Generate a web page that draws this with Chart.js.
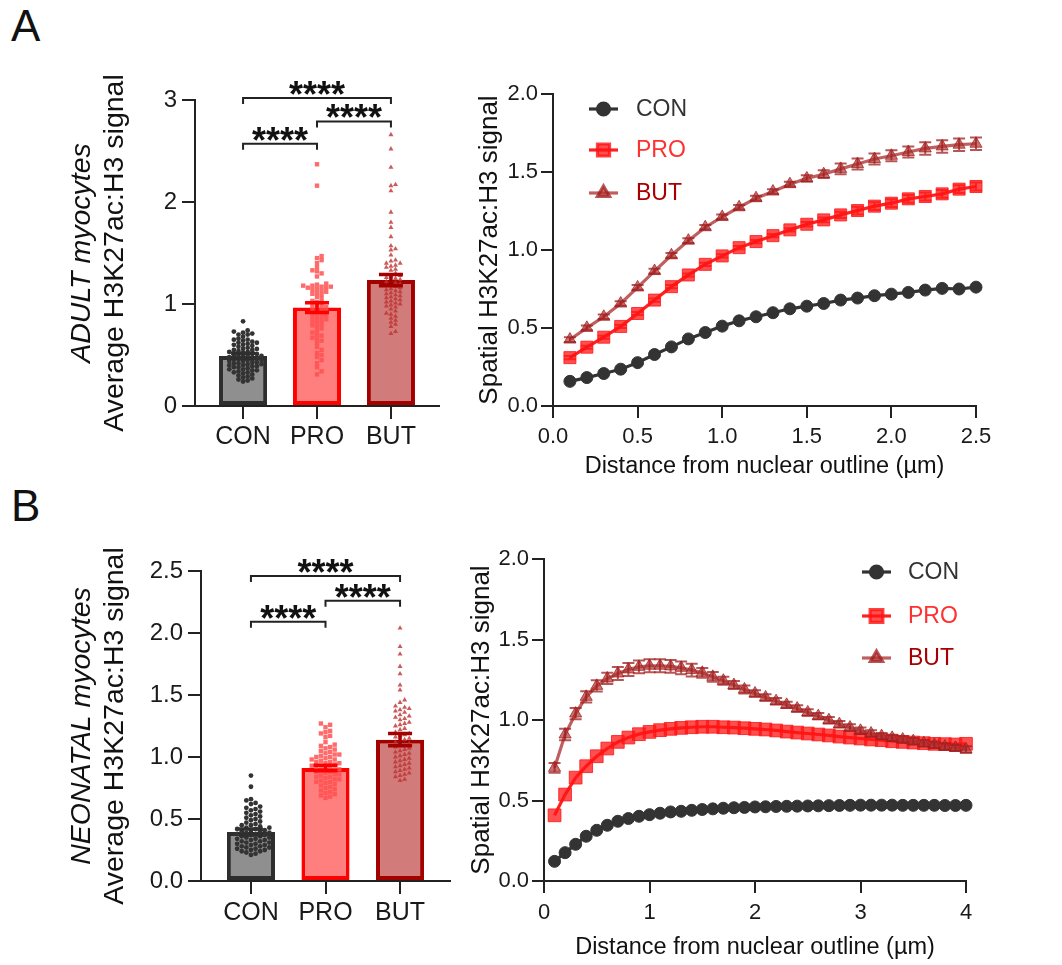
<!DOCTYPE html>
<html>
<head>
<meta charset="utf-8">
<script src="https://cdn.jsdelivr.net/npm/chart.js@4.4.1/dist/chart.umd.min.js"></script>
<style>
  body { margin: 0; background: #fff; width: 1062px; height: 965px; position: relative; overflow: hidden;
         font-family: "Liberation Sans", Arial, sans-serif; }
  .tag { position: absolute; font-size: 44px; line-height: 1; color: #111; }
  .box { position: absolute; }
</style>
</head>
<body>
<div class="tag" style="left:11px;top:4px">A</div>
<div class="tag" style="left:11px;top:484px">B</div>
<div class="box" style="left:0;top:60px;width:450px;height:420px"><canvas id="barAdult"></canvas></div>
<div class="box" style="left:470px;top:60px;width:592px;height:430px"><canvas id="lineAdult"></canvas></div>
<div class="box" style="left:0;top:540px;width:460px;height:425px"><canvas id="barNeo"></canvas></div>
<div class="box" style="left:460px;top:540px;width:602px;height:425px"><canvas id="lineNeo"></canvas></div>
<script>
'use strict';

// ---- data ----
const groups = ['CON', 'PRO', 'BUT'];

const adultMean = [0.49, 0.965, 1.235];
const adultSem = [0.027, 0.048, 0.055];
const adultCon = [0.83, 0.74, 0.73, 0.72, 0.71, 0.70, 0.70, 0.68, 0.66, 0.65, 0.65, 0.64, 0.63, 0.62, 0.62, 0.61,
  0.60, 0.60, 0.59, 0.58, 0.57, 0.56, 0.56, 0.55, 0.55, 0.54, 0.53, 0.53, 0.52, 0.51, 0.51, 0.50, 0.50, 0.49, 0.49,
  0.48, 0.48, 0.47, 0.47, 0.46, 0.46, 0.45, 0.45, 0.44, 0.44, 0.43, 0.43, 0.42, 0.42, 0.41, 0.41, 0.40, 0.40, 0.39,
  0.39, 0.38, 0.38, 0.37, 0.36, 0.36, 0.35, 0.35, 0.34, 0.33, 0.33, 0.32, 0.31, 0.30, 0.29, 0.28, 0.27, 0.26, 0.25, 0.24];
const adultPro = [2.37, 2.16, 1.47, 1.45, 1.43, 1.40, 1.36, 1.33, 1.32, 1.30, 1.27, 1.20, 1.19, 1.18, 1.18, 1.17,
  1.17, 1.16, 1.16, 1.15, 1.14, 1.13, 1.12, 1.11, 1.10, 1.09, 1.07, 1.05, 1.03, 1.02, 1.00, 0.99, 0.98, 0.97, 0.96,
  0.95, 0.94, 0.93, 0.92, 0.91, 0.90, 0.89, 0.88, 0.87, 0.86, 0.85, 0.84, 0.83, 0.82, 0.80, 0.79, 0.78, 0.76, 0.74,
  0.72, 0.70, 0.69, 0.67, 0.66, 0.64, 0.62, 0.58, 0.55, 0.52, 0.50, 0.48, 0.45, 0.42, 0.38, 0.34, 0.31];
const adultBut = [2.66, 2.52, 2.34, 2.17, 2.16, 2.11, 1.90, 1.80, 1.75, 1.66, 1.57, 1.54, 1.53, 1.48, 1.43, 1.42,
  1.40, 1.40, 1.38, 1.37, 1.36, 1.34, 1.33, 1.30, 1.28, 1.27, 1.26, 1.25, 1.24, 1.23, 1.22, 1.21, 1.20, 1.19, 1.18,
  1.17, 1.16, 1.15, 1.14, 1.13, 1.12, 1.11, 1.10, 1.09, 1.08, 1.07, 1.06, 1.05, 1.04, 1.03, 1.02, 1.01, 1.00, 0.99,
  0.98, 0.97, 0.95, 0.93, 0.91, 0.90, 0.88, 0.86, 0.84, 0.82, 0.80, 0.78, 0.73, 0.71];
const adultBrackets = [[0, 2, 3.02], [0, 1, 2.57], [1, 2, 2.79]];

const neoMean = [0.395, 0.911, 1.14];
const neoSem = [0.025, 0.022, 0.05];
const neoCon = [0.85, 0.76, 0.66, 0.65, 0.63, 0.62, 0.60, 0.59, 0.58, 0.57, 0.56, 0.55, 0.54, 0.53, 0.52, 0.51,
  0.50, 0.49, 0.48, 0.47, 0.46, 0.45, 0.45, 0.44, 0.43, 0.43, 0.42, 0.42, 0.41, 0.41, 0.40, 0.40, 0.39, 0.39, 0.38,
  0.38, 0.37, 0.37, 0.36, 0.36, 0.35, 0.35, 0.34, 0.34, 0.33, 0.33, 0.32, 0.32, 0.31, 0.31, 0.30, 0.30, 0.29, 0.29,
  0.28, 0.28, 0.27, 0.27, 0.26, 0.26, 0.25, 0.25, 0.24, 0.24, 0.23, 0.22, 0.21];
const neoPro = [1.27, 1.26, 1.24, 1.21, 1.20, 1.19, 1.17, 1.16, 1.12, 1.10, 1.09, 1.08, 1.07, 1.06, 1.05, 1.04,
  1.03, 1.02, 1.02, 1.01, 1.00, 1.00, 0.99, 0.98, 0.98, 0.97, 0.96, 0.96, 0.95, 0.95, 0.94, 0.93, 0.93, 0.92, 0.92,
  0.91, 0.90, 0.90, 0.89, 0.88, 0.88, 0.87, 0.86, 0.86, 0.85, 0.84, 0.84, 0.83, 0.82, 0.82, 0.81, 0.80, 0.80, 0.79,
  0.78, 0.77, 0.76, 0.75, 0.74, 0.73, 0.72, 0.71, 0.70, 0.69, 0.68, 0.67];
const neoBut = [2.04, 1.89, 1.83, 1.73, 1.67, 1.58, 1.54, 1.46, 1.44, 1.41, 1.40, 1.39, 1.38, 1.37, 1.36, 1.34,
  1.33, 1.32, 1.31, 1.30, 1.28, 1.27, 1.26, 1.25, 1.23, 1.22, 1.20, 1.19, 1.18, 1.17, 1.16, 1.15, 1.14, 1.13, 1.12,
  1.11, 1.10, 1.09, 1.08, 1.07, 1.06, 1.05, 1.04, 1.03, 1.02, 1.01, 1.00, 0.99, 0.98, 0.97, 0.96, 0.95, 0.94, 0.93,
  0.92, 0.91, 0.90, 0.89, 0.88, 0.87, 0.86, 0.85, 0.84, 0.82, 0.81];
const neoBrackets = [[0, 2, 2.46], [0, 1, 2.09], [1, 2, 2.26]];

const distAdult = [0.1, 0.2, 0.3, 0.4, 0.5, 0.6, 0.7, 0.8, 0.9, 1.0, 1.1, 1.2, 1.3, 1.4, 1.5, 1.6, 1.7, 1.8, 1.9,
  2.0, 2.1, 2.2, 2.3, 2.4, 2.5];
const spAdultCon = [0.158, 0.182, 0.208, 0.236, 0.278, 0.33, 0.379, 0.43, 0.471, 0.512, 0.546, 0.572, 0.598, 0.623,
  0.64, 0.657, 0.679, 0.692, 0.707, 0.717, 0.728, 0.743, 0.754, 0.75, 0.762];
const spAdultPro = [0.31, 0.377, 0.441, 0.51, 0.593, 0.679, 0.765, 0.84, 0.908, 0.962, 1.015, 1.054, 1.092, 1.129,
  1.165, 1.193, 1.225, 1.253, 1.281, 1.3, 1.328, 1.343, 1.36, 1.39, 1.407];
const spAdultBut = [0.426, 0.501, 0.572, 0.657, 0.76, 0.865, 0.966, 1.06, 1.146, 1.212, 1.274, 1.332, 1.375, 1.422,
  1.459, 1.486, 1.52, 1.551, 1.583, 1.604, 1.628, 1.651, 1.664, 1.675, 1.681];
const spAdultProSem = [0.01, 0.01, 0.01, 0.01, 0.01, 0.01, 0.01, 0.01, 0.01, 0.01, 0.01, 0.01, 0.01, 0.01, 0.015,
  0.015, 0.02, 0.025, 0.025, 0.025, 0.025, 0.025, 0.025, 0.025, 0.025];
const spAdultButSem = [0.015, 0.015, 0.015, 0.015, 0.015, 0.015, 0.015, 0.015, 0.015, 0.015, 0.015, 0.015, 0.015,
  0.015, 0.02, 0.025, 0.035, 0.035, 0.035, 0.035, 0.035, 0.04, 0.04, 0.04, 0.04];

const distNeo = [0.1, 0.2, 0.3, 0.4, 0.5, 0.6, 0.7, 0.8, 0.9, 1.0, 1.1, 1.2, 1.3, 1.4, 1.5, 1.6, 1.7, 1.8, 1.9, 2.0,
  2.1, 2.2, 2.3, 2.4, 2.5, 2.6, 2.7, 2.8, 2.9, 3.0, 3.1, 3.2, 3.3, 3.4, 3.5, 3.6, 3.7, 3.8, 3.9, 4.0];
const spNeoCon = [0.122, 0.176, 0.228, 0.278, 0.315, 0.346, 0.371, 0.388, 0.402, 0.412, 0.421, 0.429, 0.433, 0.439,
  0.444, 0.448, 0.452, 0.455, 0.457, 0.46, 0.461, 0.463, 0.464, 0.465, 0.466, 0.467, 0.468, 0.469, 0.47, 0.471,
  0.471, 0.471, 0.471, 0.47, 0.47, 0.47, 0.47, 0.469, 0.469, 0.47];
const spNeoPro = [0.408, 0.537, 0.642, 0.713, 0.775, 0.823, 0.864, 0.891, 0.912, 0.926, 0.937, 0.945, 0.951, 0.955,
  0.958, 0.958, 0.955, 0.953, 0.949, 0.945, 0.941, 0.935, 0.928, 0.922, 0.916, 0.91, 0.904, 0.897, 0.891, 0.885,
  0.879, 0.875, 0.868, 0.864, 0.86, 0.856, 0.852, 0.85, 0.848, 0.852];
const spNeoBut = [0.703, 0.91, 1.04, 1.144, 1.212, 1.258, 1.289, 1.314, 1.33, 1.337, 1.337, 1.333, 1.324, 1.31,
  1.293, 1.268, 1.244, 1.217, 1.19, 1.165, 1.14, 1.117, 1.094, 1.071, 1.047, 1.024, 0.999, 0.974, 0.953, 0.933,
  0.916, 0.9, 0.889, 0.879, 0.868, 0.856, 0.846, 0.835, 0.827, 0.817];
const spNeoButSem = [0.03, 0.035, 0.035, 0.035, 0.035, 0.035, 0.04, 0.04, 0.04, 0.04, 0.04, 0.04, 0.04, 0.04,
  0.03, 0.03, 0.025, 0.025, 0.025, 0.02, 0.02, 0.02, 0.02, 0.02, 0.02, 0.02, 0.02, 0.02, 0.02, 0.02, 0.02, 0.02,
  0.02, 0.02, 0.02, 0.02, 0.02, 0.02, 0.02, 0.02];

// ---- look ----
const FONT = '"Liberation Sans", Arial, sans-serif';
const INK = '#222';
Chart.defaults.font.family = FONT;
Chart.defaults.color = '#1a1a1a';
Chart.defaults.animation = false;

const barFill = ['#8f8f8f', '#ff7f7f', '#d27b7b'];
const barEdge = ['#2e2e2e', '#ff0000', '#a30000'];
const dotStyle = [
  { pointStyle: 'circle', radius: 2.4, color: '#333333' },
  { pointStyle: 'rect', radius: 3.1, color: 'rgba(255,80,80,0.85)' },
  { pointStyle: 'triangle', radius: 2.9, color: 'rgba(190,50,50,0.8)' }
];

// simple beeswarm in pixels: returns horizontal offsets
function swarm(values, yScale, gapX, gapY) {
  const placed = [];
  const out = new Array(values.length).fill(0);
  const order = values.map((v, i) => i).sort((a, b) => values[a] - values[b]);
  order.forEach(i => {
    const py = yScale.getPixelForValue(values[i]);
    for (let k = 0; k < 40; k++) {
      const dx = (k % 2 ? 1 : -1) * Math.ceil(k / 2) * gapX;
      const hit = placed.some(p => Math.abs(p.y - py) < gapY && Math.abs(p.x - dx) < gapX);
      if (!hit) { out[i] = dx; placed.push({ x: dx, y: py }); break; }
    }
  });
  return out;
}

const errorBars = {
  id: 'errorBars',
  afterDatasetsDraw(chart) {
    const { ctx } = chart;
    const ys = chart.scales.y;
    chart.data.datasets.forEach((ds, di) => {
      if (!ds.sem) return;
      const meta = chart.getDatasetMeta(di);
      meta.data.forEach((el, i) => {
        const v = ds.data[i].y;
        const top = ys.getPixelForValue(v + ds.sem[i]);
        const bot = ys.getPixelForValue(v - ds.sem[i]);
        const col = Array.isArray(ds.errColor) ? ds.errColor[i] : ds.errColor;
        ctx.save();
        ctx.strokeStyle = col;
        ctx.lineWidth = ds.errWidth;
        ctx.beginPath();
        ctx.moveTo(el.x, top); ctx.lineTo(el.x, bot);
        ctx.moveTo(el.x - ds.capHalf, top); ctx.lineTo(el.x + ds.capHalf, top);
        ctx.moveTo(el.x - ds.capHalf, bot); ctx.lineTo(el.x + ds.capHalf, bot);
        ctx.stroke();
        ctx.restore();
      });
    });
  }
};

const sigBars = {
  id: 'sigBars',
  afterDraw(chart, args, opts) {
    if (!opts.items) return;
    const { ctx } = chart;
    const xs = chart.scales.x, ys = chart.scales.y;
    ctx.save();
    ctx.strokeStyle = INK;
    ctx.fillStyle = '#111';
    ctx.lineWidth = 2;
    ctx.font = 'bold 36px ' + FONT;
    ctx.textAlign = 'center';
    ctx.textBaseline = 'alphabetic';
    opts.items.forEach(([a, b, v]) => {
      const x1 = xs.getPixelForValue(a), x2 = xs.getPixelForValue(b), y = ys.getPixelForValue(v);
      ctx.beginPath();
      ctx.moveTo(x1, y + opts.drop); ctx.lineTo(x1, y); ctx.lineTo(x2, y); ctx.lineTo(x2, y + opts.drop);
      ctx.stroke();
      ctx.fillText('****', (x1 + x2) / 2, y + opts.starDy);
    });
    ctx.restore();
  }
};

const axisTitles = {
  id: 'axisTitles',
  afterDraw(chart, args, opts) {
    const { ctx, chartArea: ca } = chart;
    ctx.save();
    ctx.fillStyle = '#111';
    ctx.textAlign = 'center';
    ctx.textBaseline = 'middle';
    (opts.y || []).forEach(t => {
      ctx.save();
      ctx.translate(t.x, (ca.top + ca.bottom) / 2);
      ctx.rotate(-Math.PI / 2);
      ctx.font = (t.italic ? 'italic ' : '') + t.size + 'px ' + FONT;
      ctx.fillText(t.text, 0, 0);
      ctx.restore();
    });
    if (opts.x) {
      ctx.font = opts.x.size + 'px ' + FONT;
      ctx.fillText(opts.x.text, (ca.left + ca.right) / 2, opts.x.y);
    }
    ctx.restore();
  }
};

const lineLegend = {
  id: 'lineLegend',
  afterDraw(chart, args, opts) {
    if (!opts.rows) return;
    const { ctx } = chart;
    ctx.save();
    ctx.font = '23px ' + FONT;
    ctx.textBaseline = 'middle';
    ctx.textAlign = 'left';
    chart.data.datasets.forEach((ds, i) => {
      const y = opts.rows[i];
      ctx.strokeStyle = ds.borderColor;
      ctx.lineWidth = ds.borderWidth;
      ctx.beginPath();
      ctx.moveTo(opts.x, y); ctx.lineTo(opts.x + opts.len, y);
      ctx.stroke();
      ctx.fillStyle = ds.pointBackgroundColor;
      ctx.strokeStyle = ds.pointBorderColor;
      Chart.helpers.drawPoint(ctx, { pointStyle: ds.pointStyle, radius: ds.pointRadius, rotation: 0, borderWidth: 1 },
        opts.x + opts.len / 2, y);
      ctx.fillStyle = opts.colors[i];
      ctx.fillText(ds.label, opts.textX, y + 1);
    });
    ctx.restore();
  }
};

Chart.register(errorBars, sigBars, axisTitles, lineLegend);

function axisLook(tickLen, size, pad) {
  return {
    border: { display: true, color: INK, width: 2 },
    grid: { display: true, drawOnChartArea: false, drawTicks: true, tickLength: tickLen, color: INK, lineWidth: 2, offset: false },
    ticks: { font: { size }, padding: pad, color: '#1a1a1a', autoSkip: false, maxRotation: 0 }
  };
}

function makeBarChart(id, cfg) {
  const xAxis = axisLook(13, 25, cfg.xPad);
  xAxis.type = 'linear';
  xAxis.min = -cfg.margin; xAxis.max = 2 + cfg.margin;
  xAxis.offset = false;
  xAxis.afterBuildTicks = s => { s.ticks = groups.map((g, i) => ({ value: i })); };
  xAxis.ticks.callback = v => groups[v];
  xAxis.afterFit = s => { s.height = cfg.xHeight; };

  const yAxis = axisLook(13, 24, 5);
  yAxis.min = 0; yAxis.max = cfg.yMax;
  yAxis.ticks.stepSize = cfg.yStep;
  yAxis.ticks.callback = v => cfg.yStep < 1 ? v.toFixed(1) : String(v);
  yAxis.afterFit = s => { s.width = cfg.yWidth; };

  const points = cfg.values.map((vals, g) => ({
    type: 'scatter',
    order: 2 - g,
    values: vals,
    group: g,
    data: vals.map(v => ({ x: g, y: v })),
    pointStyle: dotStyle[g].pointStyle,
    pointRadius: dotStyle[g].radius,
    pointBackgroundColor: dotStyle[g].color,
    pointBorderColor: dotStyle[g].color,
    pointBorderWidth: 0,
    showLine: false,
    clip: false
  }));

  const chart = new Chart(document.getElementById(id), {
    type: 'bar',
    data: {
      datasets: [{
        type: 'bar',
        order: 10,
        data: cfg.mean.map((m, i) => ({ x: i, y: m })),
        backgroundColor: barFill,
        borderColor: barEdge,
        borderWidth: 4,
        borderSkipped: false,
        categoryPercentage: 1,
        barPercentage: cfg.barPct,
        sem: cfg.sem,
        errColor: barEdge,
        errWidth: 3.5,
        capHalf: 12
      }, ...points]
    },
    options: {
      responsive: true,
      maintainAspectRatio: false,
      layout: { padding: cfg.padding },
      scales: { x: xAxis, y: yAxis },
      plugins: {
        legend: { display: false },
        tooltip: { enabled: false },
        sigBars: { items: cfg.brackets, drop: 6, starDy: 9 },
        axisTitles: { y: cfg.titles }
      }
    }
  });

  // second pass: spread dots sideways now that the scales exist
  const unit = chart.scales.x.getPixelForValue(1) - chart.scales.x.getPixelForValue(0);
  chart.data.datasets.forEach(ds => {
    if (ds.type !== 'scatter') return;
    const off = swarm(ds.values, chart.scales.y, 4.6, 4.0);
    ds.data = ds.values.map((v, i) => ({ x: ds.group + off[i] / unit, y: v }));
  });
  chart.update('none');
  return chart;
}

function makeLineChart(id, cfg) {
  const xAxis = axisLook(12, 22, cfg.xPad);
  xAxis.type = 'linear';
  xAxis.min = 0; xAxis.max = cfg.xMax;
  xAxis.ticks.stepSize = cfg.xStep;
  xAxis.ticks.callback = v => cfg.xStep < 1 ? v.toFixed(1) : String(v);
  xAxis.afterFit = s => { s.height = cfg.xHeight; };

  const yAxis = axisLook(12, 22, 3);
  yAxis.min = 0; yAxis.max = 2;
  yAxis.ticks.stepSize = 0.5;
  yAxis.ticks.callback = v => v.toFixed(1);
  yAxis.afterFit = s => { s.width = cfg.yWidth; };

  const mk = (label, vals, sem, look, order) => ({
    label,
    order,
    data: cfg.dist.map((d, i) => ({ x: d, y: vals[i] })),
    borderColor: look.line,
    borderWidth: 3.2,
    pointStyle: look.style,
    pointRadius: look.r,
    pointBackgroundColor: look.fill,
    pointBorderColor: look.edge,
    pointBorderWidth: 1,
    tension: 0,
    clip: false,
    sem,
    errColor: look.edge,
    errWidth: 2,
    capHalf: 6
  });

  return new Chart(document.getElementById(id), {
    type: 'line',
    data: {
      datasets: [
        mk('CON', cfg.con, null, { line: '#333333', style: 'circle', r: cfg.r[0], fill: '#333333', edge: '#333333' }, 2),
        mk('PRO', cfg.pro, cfg.proSem, { line: '#ff2020', style: 'rect', r: cfg.r[1], fill: 'rgba(255,20,20,0.75)', edge: 'rgba(255,20,20,0.8)' }, 1),
        mk('BUT', cfg.but, cfg.butSem, { line: 'rgba(175,55,55,0.8)', style: 'triangle', r: cfg.r[2], fill: 'rgba(175,50,50,0.68)', edge: 'rgba(160,30,30,0.75)' }, 0)
      ]
    },
    options: {
      responsive: true,
      maintainAspectRatio: false,
      layout: { padding: cfg.padding },
      scales: { x: xAxis, y: yAxis },
      plugins: {
        legend: { display: false },
        tooltip: { enabled: false },
        axisTitles: {
          y: [{ text: 'Spatial H3K27ac:H3 signal', size: 26, x: cfg.yTitleX }],
          x: { text: 'Distance from nuclear outline (\u00b5m)', size: 23.5, y: cfg.xTitleY }
        },
        lineLegend: { x: cfg.legend.x, len: 29, textX: cfg.legend.textX, rows: cfg.legend.rows,
          colors: ['#333333', '#ff3030', '#a80000'] }
      }
    }
  });
}

makeBarChart('barAdult', {
  mean: adultMean, sem: adultSem, values: [adultCon, adultPro, adultBut], brackets: adultBrackets,
  yMax: 3, yStep: 1, margin: 0.65, barPct: 0.65,
  padding: { top: 40, right: 11, left: 0, bottom: 0 }, yWidth: 195, xHeight: 74, xPad: 3,
  titles: [
    { text: 'ADULT myocytes', italic: true, size: 28.5, x: 82 },
    { text: 'Average H3K27ac:H3 signal', size: 28.5, x: 115 }
  ]
});

makeBarChart('barNeo', {
  mean: neoMean, sem: neoSem, values: [neoCon, neoPro, neoBut], brackets: neoBrackets,
  yMax: 2.5, yStep: 0.5, margin: 0.67, barPct: 0.645,
  padding: { top: 31, right: 10, left: 0, bottom: 0 }, yWidth: 201, xHeight: 84, xPad: 4,
  titles: [
    { text: 'NEONATAL myocytes', italic: true, size: 28.5, x: 82 },
    { text: 'Average H3K27ac:H3 signal', size: 28.5, x: 115 }
  ]
});

makeLineChart('lineAdult', {
  dist: distAdult, con: spAdultCon, pro: spAdultPro, but: spAdultBut,
  proSem: spAdultProSem, butSem: spAdultButSem,
  xMax: 2.5, xStep: 0.5, r: [6, 8.5, 7],
  padding: { top: 34, right: 86, left: 0, bottom: 0 }, yWidth: 83, xHeight: 84, xPad: 6,
  yTitleX: 20, xTitleY: 407,
  legend: { x: 119, textX: 166, rows: [49, 90, 133] }
});

makeLineChart('lineNeo', {
  dist: distNeo, con: spNeoCon, pro: spNeoPro, but: spNeoBut,
  proSem: null, butSem: spNeoButSem,
  xMax: 4, xStep: 1, r: [6, 9, 7],
  padding: { top: 19, right: 96, left: 0, bottom: 0 }, yWidth: 84, xHeight: 84, xPad: 7,
  yTitleX: 22, xTitleY: 408,
  legend: { x: 402, textX: 448, rows: [32, 76, 118] }
});
</script>
</body>
</html>
